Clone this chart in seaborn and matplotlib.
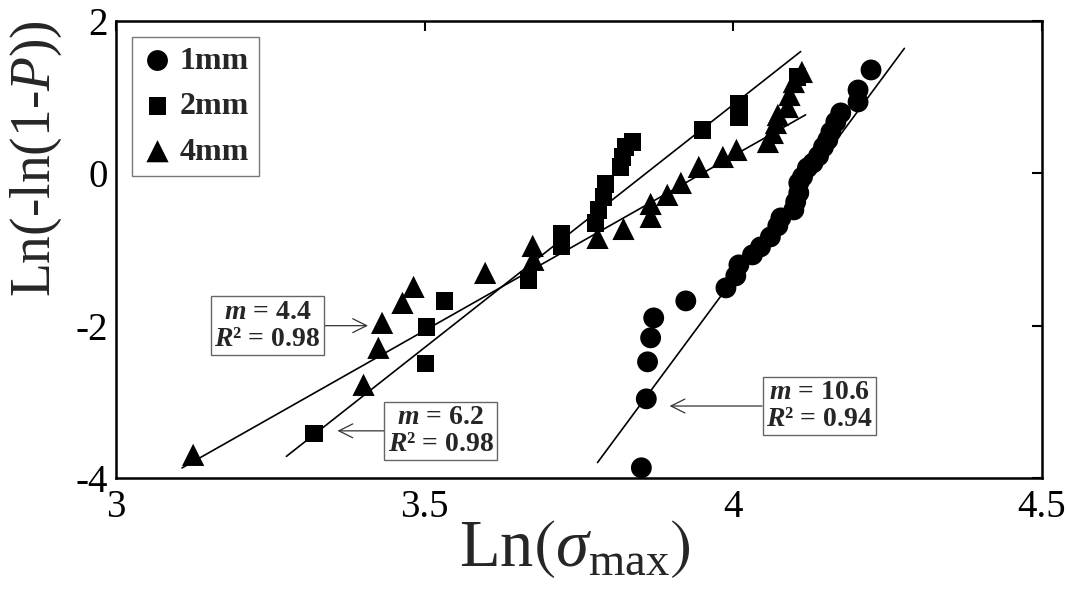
import numpy as np
import pandas as pd
import matplotlib
matplotlib.use("Agg")
import matplotlib.pyplot as plt
import seaborn as sns

# ---------------- data ----------------
x_1mm = [3.851, 3.859, 3.861, 3.866, 3.871, 3.923, 3.988, 4.004, 4.009, 4.031,
         4.044, 4.060, 4.072, 4.077, 4.098, 4.101, 4.106, 4.106, 4.112, 4.120,
         4.129, 4.138, 4.146, 4.153, 4.158, 4.166, 4.174, 4.202, 4.202, 4.223]
y_1mm = [-3.866, -2.961, -2.475, -2.160, -1.898, -1.675, -1.504, -1.346, -1.202, -1.071,
         -0.966, -0.835, -0.690, -0.585, -0.480, -0.375, -0.257, -0.126, -0.047, 0.071,
         0.136, 0.228, 0.346, 0.438, 0.543, 0.675, 0.793, 0.937, 1.094, 1.357]

x_2mm = [3.321, 3.501, 3.503, 3.532, 3.668, 3.722, 3.722, 3.777, 3.782, 3.790,
         3.793, 3.817, 3.820, 3.825, 3.837, 3.950, 4.009, 4.009, 4.104]
y_2mm = [-3.420, -2.501, -2.016, -1.675, -1.399, -0.953, -0.795, -0.651, -0.480, -0.310,
         -0.139, 0.084, 0.215, 0.346, 0.412, 0.570, 0.740, 0.911, 1.265]

x_4mm = [3.125, 3.401, 3.425, 3.431, 3.464, 3.482, 3.598, 3.675, 3.676, 3.780,
         3.822, 3.866, 3.866, 3.893, 3.915, 3.944, 3.983, 4.005, 4.056, 4.064,
         4.069, 4.072, 4.088, 4.091, 4.098, 4.111]
y_4mm = [-3.696, -2.777, -2.291, -1.963, -1.701, -1.491, -1.307, -0.953, -1.136, -0.848,
         -0.730, -0.572, -0.402, -0.283, -0.126, 0.084, 0.215, 0.307, 0.412, 0.530,
         0.661, 0.766, 0.871, 1.029, 1.199, 1.331]

series_names = ["1mm", "2mm", "4mm"]

# fitted Weibull lines (slope, intercept, x-range)
fit_slope = [10.94, 6.38, 4.59]
fit_intercept = [-45.15, -24.617, -18.129]
fit_xmin = [3.780, 3.276, 3.107]
fit_xmax = [4.277, 4.109, 4.117]

# annotation labels
ann_text = ["$\\mathbf{m}$ = 4.4\n$\\mathbf{R}$\u00b2 = 0.98",
            "$\\mathbf{m}$ = 6.2\n$\\mathbf{R}$\u00b2 = 0.98",
            "$\\mathbf{m}$ = 10.6\n$\\mathbf{R}$\u00b2 = 0.94"]
ann_target = [(3.415, -2.0), (3.352, -3.381), (3.890, -3.055)]
ann_box = [(3.245, -2.0), (3.526, -3.381), (4.139, -3.055)]

x_ticks = [3, 3.5, 4, 4.5]
x_ticklabels = ["3", "3.5", "4", "4.5"]
y_ticks = [-4, -2, 0, 2]
y_ticklabels = ["-4", "-2", "0", "2"]

# ---------------- style ----------------
sns.set_theme(style="white")
plt.rcParams['font.family'] = ['Liberation Serif', 'DejaVu Serif']
plt.rcParams['mathtext.fontset'] = 'custom'
plt.rcParams['mathtext.rm'] = 'Liberation Serif'
plt.rcParams['mathtext.it'] = 'Liberation Serif:italic'
plt.rcParams['mathtext.bf'] = 'Liberation Serif:italic:bold'
plt.rcParams['mathtext.fallback'] = 'stix'

fig = plt.figure(figsize=(10.67, 6.10), dpi=100)
ax = fig.add_axes([0.1087, 0.2164, 0.8679, 0.7492])

df = pd.concat([
    pd.DataFrame({"x": x_1mm, "y": y_1mm, "series": "1mm"}),
    pd.DataFrame({"x": x_2mm, "y": y_2mm, "series": "2mm"}),
    pd.DataFrame({"x": x_4mm, "y": y_4mm, "series": "4mm"}),
], ignore_index=True)

marker_spec = {"1mm": ("o", 15.0), "2mm": ("s", 12.5), "4mm": ("^", 16.0)}
handles = []
for name in series_names:
    mk, ms = marker_spec[name]
    sub = df[df["series"] == name]
    sns.scatterplot(data=sub, x="x", y="y", marker=mk, s=ms ** 2, color="black",
                    edgecolor="none", linewidth=0, ax=ax, zorder=3, legend=False)
    handles.append(ax.collections[-1])

for i in range(len(series_names)):
    xs = np.array([fit_xmin[i], fit_xmax[i]])
    ys = fit_slope[i] * xs + fit_intercept[i]
    sns.lineplot(x=xs, y=ys, color="black", linewidth=1.2, ax=ax, zorder=2)

for txt, tgt, box in zip(ann_text, ann_target, ann_box):
    ax.annotate(txt, xy=tgt, xytext=box, textcoords="data", ha="center", va="center",
                fontsize=20, fontweight="bold", linespacing=1.1, zorder=5,
                bbox=dict(boxstyle="square,pad=0.12", fc="white", ec="#666666", lw=1.0),
                arrowprops=dict(arrowstyle="->,head_length=0.5,head_width=0.25",
                                color="#333333", lw=0.9, shrinkA=0, shrinkB=3))

ax.set_xlim(3, 4.5)
ax.set_ylim(-4, 2)
ax.set_xticks(x_ticks)
ax.set_xticklabels(x_ticklabels)
ax.set_yticks(y_ticks)
ax.set_yticklabels(y_ticklabels)
ax.tick_params(direction="in", length=7, width=1.5, top=True, right=True,
               labelsize=28, colors="black")
ax.tick_params(axis="x", pad=8)
ax.tick_params(axis="y", pad=6)
for sp in ax.spines.values():
    sp.set_visible(True)
    sp.set_color("black")
    sp.set_linewidth(1.8)

ax.set_xlabel(r"Ln$\left(\sigma_{\mathrm{max}}\right)$", fontsize=48)
ax.set_ylabel(r"Ln(-ln(1-$P$))", fontsize=40)
ax.xaxis.set_label_coords(0.496, -0.088)
ax.yaxis.set_label_coords(-0.056, 0.70)

leg = ax.legend(handles, series_names, loc="upper left", bbox_to_anchor=(0.0, 1.0),
                borderaxespad=0.5, prop=dict(family="Liberation Serif", weight="bold", size=23),
                frameon=True, fancybox=False, framealpha=1, edgecolor="#777777",
                handletextpad=0.2, borderpad=0.3, labelspacing=0.5, handlelength=1.0)
leg.get_frame().set_linewidth(1.0)

fig.savefig("out.png", dpi=100)
